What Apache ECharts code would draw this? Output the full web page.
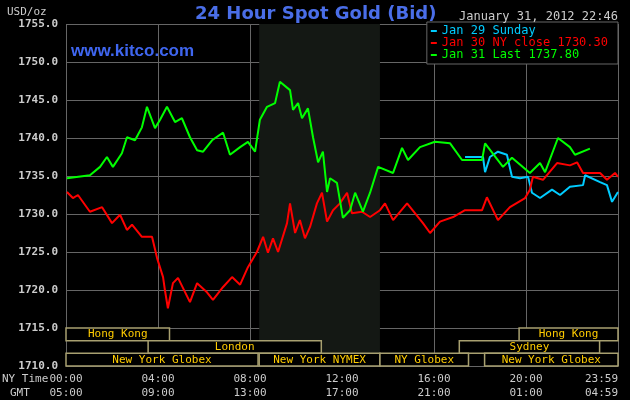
<!DOCTYPE html>
<html>
<head>
<meta charset="utf-8">
<script src="https://cdn.jsdelivr.net/npm/echarts@6/dist/echarts.min.js"></script>
<style>
  * { margin: 0; padding: 0; }
  body { background: #000; }
  #main { width: 630px; height: 400px; }
</style>
</head>
<body>
<div id="main"></div>
<script>
// hours since 00:00 NY time, and bid prices
var greenHours = [0.04,1.04,1.48,1.78,2.04,2.43,2.65,3,3.3,3.52,3.87,4.09,4.39,4.74,5.04,5.39,5.7,5.96,6.35,6.83,7.13,7.57,7.91,8.22,8.43,8.74,9.09,9.3,9.74,9.87,10.09,10.26,10.52,10.74,10.96,11.17,11.35,11.48,11.78,12.04,12.35,12.57,12.91,13.22,13.57,14.22,14.61,14.87,15.39,16.04,16.7,17.22,18.09,18.22,19,19.39,20.17,20.61,20.83,21.39,21.91,22.13,22.78];
var greenPrices = [1734.7,1735.1,1736.2,1737.5,1736.2,1738,1740.1,1739.7,1741.4,1744.1,1741.3,1742.4,1744.1,1742.1,1742.6,1740.1,1738.4,1738.2,1739.7,1740.7,1737.8,1738.8,1739.5,1738.2,1742.4,1744.1,1744.6,1747.4,1746.3,1743.7,1744.6,1742.6,1743.9,1740.1,1736.8,1738.2,1732.9,1734.7,1734.1,1729.5,1730.5,1732.8,1730.3,1732.8,1736.2,1735.4,1738.7,1737.1,1738.8,1739.5,1739.3,1737.1,1737.1,1739.3,1736.2,1737.4,1735.4,1736.7,1735.5,1740,1738.8,1737.8,1738.6];

var redHours = [0.04,0.3,0.52,1.04,1.57,2,2.35,2.65,2.87,3.3,3.74,3.96,4.22,4.3,4.43,4.65,4.87,5.39,5.7,6.13,6.39,6.83,7.22,7.57,7.91,8.3,8.57,8.78,9,9.22,9.61,9.74,9.96,10.17,10.39,10.61,10.91,11.13,11.35,11.61,11.91,12.22,12.43,12.87,13.22,13.65,13.87,14.22,14.83,15.52,15.83,16.26,16.83,17.35,18.09,18.3,18.78,19.3,19.96,20.17,20.3,20.74,21.35,21.91,22.22,22.48,23.22,23.52,23.87,24];
var redPrices = [1732.9,1732.1,1732.5,1730.3,1730.9,1728.8,1729.9,1727.9,1728.6,1727,1727,1724.2,1721.7,1720,1717.6,1720.9,1721.6,1718.4,1720.9,1719.7,1718.7,1720.4,1721.7,1720.7,1723,1725,1727,1724.9,1726.8,1725,1728.8,1731.4,1727.5,1729.2,1726.8,1728.3,1731.4,1732.8,1729,1730.5,1731.4,1732.8,1730.1,1730.3,1729.6,1730.5,1731.4,1729.2,1731.4,1728.8,1727.5,1729,1729.6,1730.5,1730.5,1732.2,1729.2,1730.9,1732.1,1733.2,1734.9,1734.5,1736.7,1736.4,1736.8,1735.4,1735.4,1734.5,1735.4,1734.9];

var blueHours = [17.35,18.13,18.22,18.43,18.78,19.17,19.39,19.74,20.09,20.26,20.61,21.13,21.48,21.91,22.48,22.57,23.22,23.52,23.74,24];
var bluePrices = [1737.5,1737.5,1735.5,1737.5,1738.2,1737.8,1734.9,1734.7,1734.9,1732.8,1732.1,1733.2,1732.5,1733.6,1733.8,1735.1,1734.2,1733.8,1731.6,1732.9];

var nyTicks = {0:'00:00',4:'04:00',8:'08:00',12:'12:00',16:'16:00',20:'20:00',24:'23:59'};
var gmtTicks = {0:'05:00',4:'09:00',8:'13:00',12:'17:00',16:'21:00',20:'01:00',24:'04:59'};

// [start hour, end hour, row, name]
var sessions = [
  [0, 4.5, 0, 'Hong Kong'],
  [19.7, 24, 0, 'Hong Kong'],
  [3.57, 11.1, 1, 'London'],
  [17.1, 23.2, 1, 'Sydney'],
  [0, 8.35, 2, 'New York Globex'],
  [8.4, 13.65, 2, 'New York NYMEX'],
  [13.65, 17.5, 2, 'NY Globex'],
  [18.2, 24, 2, 'New York Globex']
];
var nymexHours = [8.4, 13.65];

function pairs(h, p) { return h.map(function (x, i) { return [x, p[i]]; }); }

var mono = 'DejaVu Sans Mono';
var chart = echarts.init(document.getElementById('main'));
chart.setOption({
  backgroundColor: '#000',
  animation: false,
  grid: { left: 66, right: 12, top: 24, bottom: 34, outerBoundsMode: 'none', containLabel: false },
  title: [{
    text: '24 Hour Spot Gold (Bid)', left: 190, top: 0,
    textStyle: { color: '#4a6ee8', fontSize: 18, fontWeight: 'bold', fontFamily: 'DejaVu Sans' }
  }, {
    text: 'www.kitco.com', left: 66, top: 38,
    textStyle: { color: '#3f66f0', fontSize: 17, fontWeight: 'bold', fontFamily: 'Liberation Sans' }
  }, {
    text: 'January 31, 2012 22:46', left: 454, top: 6,
    textStyle: { color: '#ccc', fontSize: 12, fontWeight: 'normal', fontFamily: mono }
  }, {
    text: 'USD/oz', left: 2, top: 2,
    textStyle: { color: '#ccc', fontSize: 11, fontWeight: 'normal', fontFamily: mono }
  }],
  graphic: [
    { type: 'text', left: 2, top: 374, style: { text: 'NY Time', fill: '#ccc', font: '11px ' + mono } },
    { type: 'text', left: 10, top: 388, style: { text: 'GMT', fill: '#ccc', font: '11px ' + mono } }
  ],
  legend: {
    orient: 'vertical', right: 12, top: 22, itemGap: 0, padding: [3, 10, 3, 4],
    backgroundColor: '#000', borderColor: '#666', borderWidth: 1,
    icon: 'rect', itemWidth: 6, itemHeight: 2,
    textStyle: { fontFamily: mono, fontSize: 12 },
    data: [
      { name: 'Jan 29 Sunday', textStyle: { color: '#00ccff' } },
      { name: 'Jan 30 NY close 1730.30', textStyle: { color: '#ff0000' } },
      { name: 'Jan 31 Last 1737.80', textStyle: { color: '#00ff00' } }
    ]
  },
  xAxis: {
    type: 'value', min: 0, max: 24, interval: 4,
    axisLine: { show: false }, axisTick: { show: false },
    splitLine: { lineStyle: { color: '#666', width: 1 } },
    axisLabel: {
      fontFamily: mono, fontSize: 11, color: '#ccc', margin: 6, lineHeight: 14,
      alignMaxLabel: 'right',
      formatter: function (v) { return nyTicks[v] + '\n' + gmtTicks[v]; }
    }
  },
  yAxis: {
    type: 'value', min: 1710, max: 1755, interval: 5,
    axisLine: { show: false }, axisTick: { show: false },
    splitLine: { lineStyle: { color: '#666', width: 1 } },
    axisLabel: {
      fontFamily: mono, fontSize: 11, fontWeight: 'bold', color: '#ccc', margin: 8,
      formatter: function (v) { return v.toFixed(1); }
    }
  },
  series: [{
    name: 'Jan 29 Sunday', type: 'line', data: pairs(blueHours, bluePrices),
    showSymbol: false, lineStyle: { color: '#00ccff', width: 2 }, itemStyle: { color: '#00ccff' }, z: 3,
    markArea: {
      silent: true, itemStyle: { color: '#141814' },
      data: [[{ xAxis: nymexHours[0] }, { xAxis: nymexHours[1] }]]
    }
  }, {
    name: 'Jan 30 NY close 1730.30', type: 'line', data: pairs(redHours, redPrices),
    showSymbol: false, lineStyle: { color: '#ff0000', width: 2 }, itemStyle: { color: '#ff0000' }, z: 4
  }, {
    name: 'Jan 31 Last 1737.80', type: 'line', data: pairs(greenHours, greenPrices),
    showSymbol: false, lineStyle: { color: '#00ff00', width: 2 }, itemStyle: { color: '#00ff00' }, z: 5
  }, {
    type: 'custom', silent: true, z: 6, data: sessions,
    renderItem: function (params, api) {
      var row = api.value(2);
      var top = 1715 - row * 5 / 3, bot = top - 5 / 3;
      var p0 = api.coord([api.value(0), top]);
      var p1 = api.coord([api.value(1), bot]);
      return {
        type: 'group',
        children: [{
          type: 'rect',
          shape: { x: p0[0], y: p0[1], width: p1[0] - p0[0], height: p1[1] - p0[1] },
          style: { fill: '#000', stroke: '#a8a070', lineWidth: 1.5 }
        }, {
          type: 'text',
          style: {
            text: sessions[params.dataIndex][3], x: (p0[0] + p1[0]) / 2, y: (p0[1] + p1[1]) / 2,
            align: 'center', verticalAlign: 'middle', fill: '#ffcc00', font: '11px ' + mono
          }
        }]
      };
    }
  }]
});
</script>
</body>
</html>
